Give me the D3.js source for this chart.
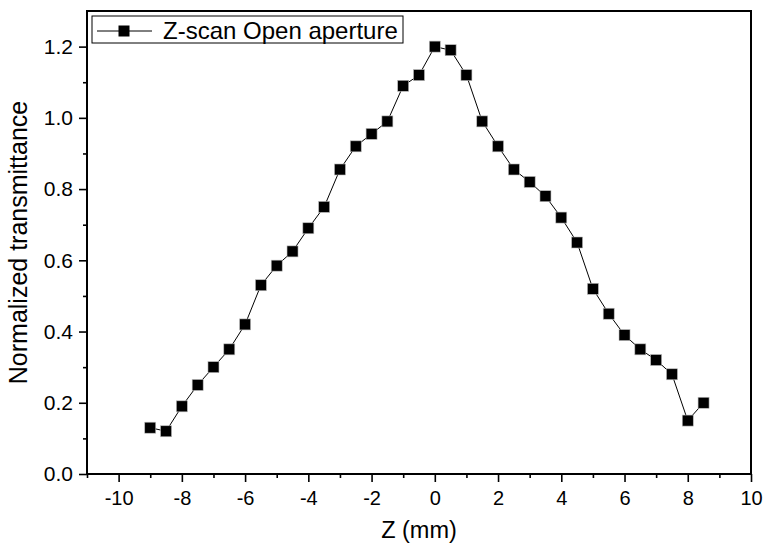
<!DOCTYPE html>
<html><head><meta charset="utf-8">
<script src="https://cdn.jsdelivr.net/npm/d3@7"></script>
<style>body{margin:0;background:#fff}svg{display:block;font-family:Arial,"Liberation Sans",sans-serif}</style>
</head><body><svg id="c" width="764" height="548"></svg>
<script>
const zValues = [-9,-8.5,-8,-7.5,-7,-6.5,-6,-5.5,-5,-4.5,-4,-3.5,-3,-2.5,-2,-1.5,-1,-0.5,0,0.5,1,1.5,2,2.5,3,3.5,4,4.5,5,5.5,6,6.5,7,7.5,8,8.5];
const transmittance = [0.13,0.12,0.19,0.25,0.30,0.35,0.42,0.53,0.585,0.625,0.69,0.75,0.855,0.92,0.955,0.99,1.09,1.12,1.20,1.19,1.12,0.99,0.92,0.855,0.82,0.78,0.72,0.65,0.52,0.45,0.39,0.35,0.32,0.28,0.15,0.20];
const xTicks = [-10,-8,-6,-4,-2,0,2,4,6,8,10];
const yTicks = [0.0,0.2,0.4,0.6,0.8,1.0,1.2];
const seriesName = "Z-scan Open aperture";
const xTitle = "Z (mm)";
const yTitle = "Normalized transmittance";

const L=87,R=751,T=11,B=474;
const svg=d3.select("#c");
const x=d3.scaleLinear().domain([-11,10]).range([L,R]);
const y=d3.scaleLinear().domain([0,1.3]).range([B,T]);

const xMinor=d3.range(-11,10.01,1).filter(v=>!xTicks.includes(v));
const yMinor=d3.range(0.1,1.3,0.2).map(v=>+v.toFixed(1));

const gx=svg.append("g").attr("transform",`translate(0,${B})`)
 .call(d3.axisBottom(x).tickValues(xTicks).tickSize(8).tickPadding(9).tickFormat(d3.format("d")));
const gy=svg.append("g").attr("transform",`translate(${L},0)`)
 .call(d3.axisLeft(y).tickValues(yTicks).tickSize(8).tickPadding(6).tickFormat(d3.format(".1f")));
svg.append("g").attr("transform",`translate(0,${B})`)
 .call(d3.axisBottom(x).tickValues(xMinor).tickSize(4).tickFormat(""));
svg.append("g").attr("transform",`translate(${L},0)`)
 .call(d3.axisLeft(y).tickValues(yMinor).tickSize(4).tickFormat(""));
svg.selectAll(".domain").remove();
svg.selectAll(".tick line").attr("stroke","#000").attr("stroke-width",1.6);
gx.selectAll("text").attr("font-size",20).attr("fill","#000").attr("font-family","Arial, 'Liberation Sans', sans-serif").text(d=>d<0?"-"+Math.abs(d):d);
gy.selectAll("text").attr("font-size",21).attr("fill","#000").attr("font-family","Arial, 'Liberation Sans', sans-serif");

svg.append("rect").attr("x",L).attr("y",T).attr("width",R-L).attr("height",B-T)
 .attr("fill","none").attr("stroke","#000").attr("stroke-width",2);

svg.append("path").datum(zValues.map((z,i)=>[z,transmittance[i]]))
 .attr("d",d3.line().x(d=>x(d[0])).y(d=>y(d[1])))
 .attr("fill","none").attr("stroke","#000").attr("stroke-width",1);
const S=11;
svg.append("g").selectAll("rect").data(zValues).join("rect")
 .attr("x",(d,i)=>x(d)-S/2).attr("y",(d,i)=>y(transmittance[i])-S/2)
 .attr("width",S).attr("height",S).attr("fill","#000").attr("stroke","#bbb").attr("stroke-width",0.6);

const lg=svg.append("g");
lg.append("rect").attr("x",92).attr("y",16).attr("width",311).attr("height",27).attr("fill","#fff").attr("stroke","#000").attr("stroke-width",1);
lg.append("line").attr("x1",97).attr("x2",152).attr("y1",31).attr("y2",31).attr("stroke","#000").attr("stroke-width",1);
lg.append("rect").attr("x",124-S/2).attr("y",31-S/2).attr("width",S).attr("height",S).attr("fill","#000");
lg.append("text").attr("x",163).attr("y",39).attr("font-size",24).text(seriesName);

svg.append("text").attr("x",(L+R)/2).attr("y",538).attr("text-anchor","middle").attr("font-size",23.5).text(xTitle);
svg.append("text").attr("transform",`translate(27,${(T+B)/2}) rotate(-90)`).attr("text-anchor","middle").attr("font-size",25).text(yTitle);
</script></body></html>
